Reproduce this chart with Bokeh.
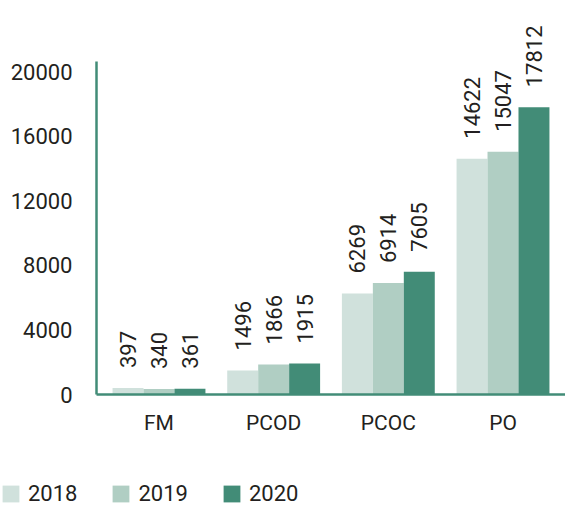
import math
from bokeh.plotting import figure
from bokeh.layouts import column
from bokeh.models import ColumnDataSource, FactorRange, Range1d, FixedTicker, Legend, LegendItem
from bokeh.transform import dodge
from bokeh.core.properties import value
from bokeh.embed import file_html
from bokeh.resources import INLINE

categories = ["FM", "PCOD", "PCOC", "PO"]
years = ["2018", "2019", "2020"]
v2018 = [397, 1496, 6269, 14622]
v2019 = [340, 1866, 6914, 15047]
v2020 = [361, 1915, 7605, 17812]
y_ticks = [0, 4000, 8000, 12000, 16000, 20000]

colors = ["#d0e1dc", "#b0cec3", "#428c77"]
FONT = "Roboto"
TXT = "#231f20"
AXIS = "#428c77"

series = {"2018": v2018, "2019": v2019, "2020": v2020}
data = {"cat": categories}
for y in years:
    data[y] = series[y]
    data[y + "_lbl"] = [str(v) for v in series[y]]
src = ColumnDataSource(data)

# ---- main chart ----
p = figure(
    x_range=FactorRange(*categories, range_padding=0.045, range_padding_units="absolute"),
    y_range=Range1d(0, 24434),
    width=565, height=472,
    output_backend="svg", toolbar_location=None,
    min_border_left=96, min_border_right=0, min_border_top=0, min_border_bottom=78,
    frame_align=False,
)
p.outline_line_color = None
p.xgrid.visible = False
p.ygrid.visible = False

bw = 0.27
offsets = [-bw, 0.0, bw]
for y, off, c in zip(years, offsets, colors):
    p.vbar(x=dodge("cat", off, range=p.x_range), top=y, width=bw, source=src,
           fill_color=c, line_color=None)
    p.text(x=dodge("cat", off, range=p.x_range), y=y, text=y + "_lbl", source=src,
           angle=math.pi / 2, text_align="left", text_baseline="middle", y_offset=-20,
           text_font=value(FONT), text_font_size="22px", text_color=TXT)

ax = p.yaxis[0]
ax.ticker = FixedTicker(ticks=y_ticks)
ax.bounds = (0, 20651)
ax.axis_line_color = AXIS
ax.axis_line_width = 2.5
ax.major_tick_out = 0
ax.major_tick_in = 0
ax.major_tick_line_color = None
ax.minor_tick_line_color = None
ax.major_label_standoff = 24
ax.major_label_text_font = FONT
ax.major_label_text_font_size = "22px"
ax.major_label_text_color = TXT

xa = p.xaxis[0]
xa.axis_line_color = AXIS
xa.axis_line_width = 2.5
xa.major_tick_out = 0
xa.major_tick_in = 0
xa.major_tick_line_color = None
xa.minor_tick_line_color = None
xa.major_label_standoff = 16
xa.major_label_text_font = FONT
xa.major_label_text_font_size = "21px"
xa.major_label_text_color = TXT

# ---- legend strip (its bars lie outside its visible ranges; only the legend shows) ----
lg = figure(
    x_range=Range1d(0, 1), y_range=Range1d(-2, -1),
    width=565, height=34,
    output_backend="svg", toolbar_location=None,
    x_axis_location=None, y_axis_location=None,
    min_border=0, frame_align=False,
)
lg.outline_line_color = None
lg.grid.visible = False
lg_renderers = []
for y, c in zip(years, colors):
    r = lg.vbar(x=10, top=y, width=0.1, source=src, fill_color=c, line_color=None,
                border_radius=2)
    lg_renderers.append(r)

legend = Legend(
    items=[LegendItem(label=y, renderers=[r]) for y, r in zip(years, lg_renderers)],
    orientation="horizontal", location=(0, 0),
    padding=0, margin=0, border_line_color=None, background_fill_alpha=0,
    glyph_width=21, glyph_height=21, label_standoff=7, spacing=33,
    label_text_font=FONT, label_text_font_size="22px", label_text_color=TXT,
    label_height=21,
)
lg.add_layout(legend, "center")

layout = column(p, lg, spacing=0)
open("out.html", "w").write(file_html(layout, INLINE))
